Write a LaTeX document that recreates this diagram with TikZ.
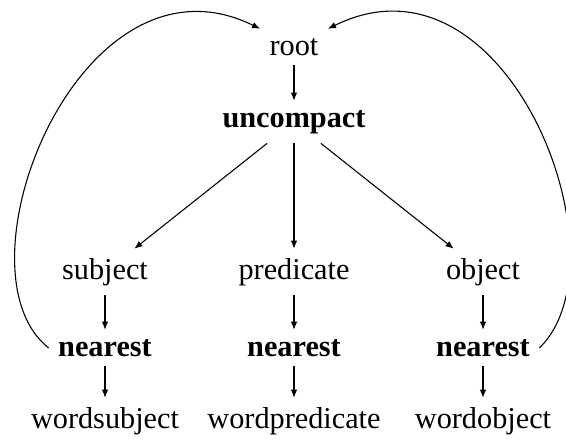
\documentclass[tikz,border=0pt]{standalone}
\usepackage{fontspec}
\setmainfont{Liberation Serif}
\usetikzlibrary{arrows.meta}
\begin{document}
\begin{tikzpicture}[x=0.37pt,y=-0.37pt,
  lbl/.style={font=\fontsize{11.2}{13}\selectfont},
  blbl/.style={font=\fontsize{11.2}{13}\selectfont\bfseries},
  arr/.style={-{Latex[length=3pt,width=2.4pt]}, line width=0.4pt}]
\useasboundingbox (0,0) rectangle (566,439);
% top of the tree
\node[lbl]  (root) at (294,47)  {root};
\node[blbl] (unc)  at (294,122) {uncompact};
% the three branches
\node[lbl]  (subj) at (105,272) {subject};
\node[lbl]  (pred) at (294,272) {predicate};
\node[lbl]  (obj)  at (483,272) {object};
\node[blbl] (ns)   at (105,348) {nearest};
\node[blbl] (np)   at (294,348) {nearest};
\node[blbl] (no)   at (483,348) {nearest};
\node[lbl]  (ws)   at (105,421) {wordsubject};
\node[lbl]  (wp)   at (294,421) {wordpredicate};
\node[lbl]  (wo)   at (483,421) {wordobject};
% straight edges
\draw[arr] (root) -- (unc);
\draw[arr] (unc) -- (subj);
\draw[arr] (unc) -- (pred);
\draw[arr] (unc) -- (obj);
\draw[arr] (subj) -- (ns);
\draw[arr] (pred) -- (np);
\draw[arr] (obj) -- (no);
\draw[arr] (ns) -- (ws);
\draw[arr] (np) -- (wp);
\draw[arr] (no) -- (wo);
% loops back to the root
\draw[arr] (ns.west) .. controls (-50,270) and (80,-60) .. (root.north west);
\draw[arr] (no.east) .. controls (630,260) and (508,-60) .. (root.north east);
\end{tikzpicture}
\end{document}
